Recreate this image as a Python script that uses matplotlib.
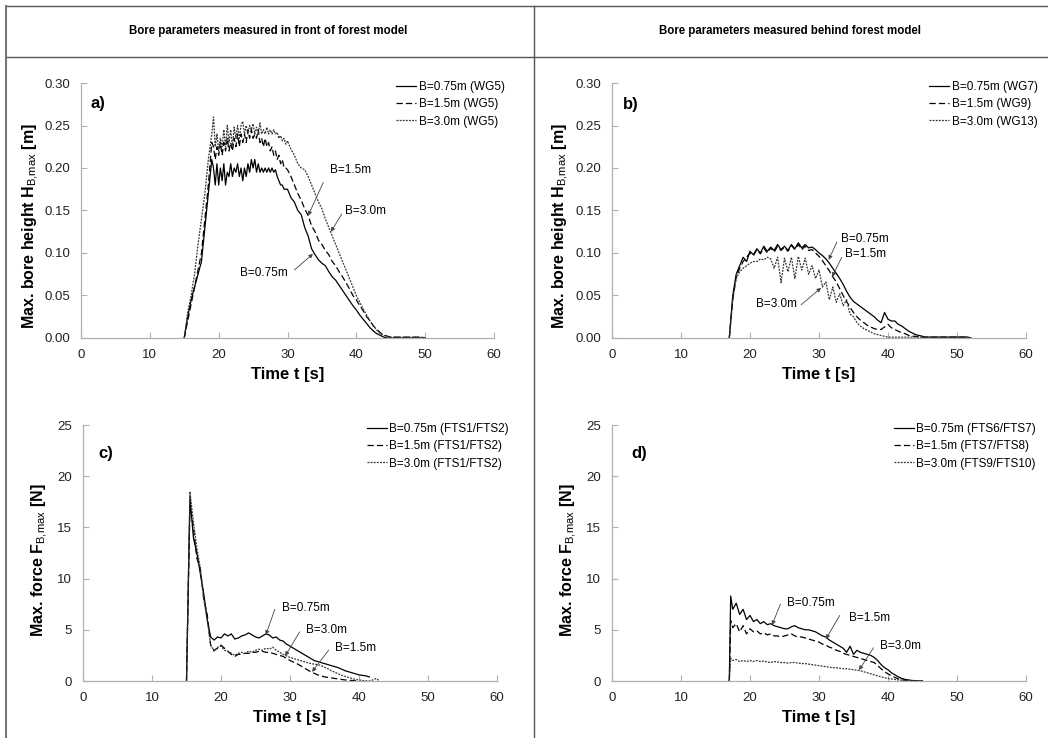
import numpy as np
import matplotlib
matplotlib.use("Agg")
import matplotlib.pyplot as plt
from matplotlib.lines import Line2D
from matplotlib.ticker import FormatStrFormatter

plt.rcParams['font.family'] = ['Liberation Sans', 'DejaVu Sans']
plt.rcParams['mathtext.fontset'] = 'custom'
plt.rcParams['mathtext.rm'] = 'Liberation Sans'
plt.rcParams['mathtext.bf'] = 'Liberation Sans:bold'

# ---------------- data ----------------
# panel a: bore height in front of forest model
t_a = np.concatenate([np.arange(15, 19, 0.5), np.arange(19, 30, 0.25), np.arange(30, 50.01, 0.5)])
h_a_075 = [0, 0.025, 0.045, 0.06, 0.075, 0.09, 0.13, 0.17,
           0.21, 0.20, 0.18, 0.205, 0.18, 0.20, 0.185, 0.205, 0.18, 0.195, 0.19, 0.205,
           0.19, 0.20, 0.195, 0.205, 0.19, 0.20, 0.185, 0.20, 0.19, 0.205, 0.195, 0.21,
           0.20, 0.21, 0.195, 0.205, 0.195, 0.20, 0.195, 0.20, 0.195, 0.20, 0.195, 0.20,
           0.195, 0.198, 0.19, 0.185, 0.18, 0.18, 0.175, 0.175,
           0.175, 0.165, 0.16, 0.15, 0.145, 0.13, 0.12, 0.105, 0.098, 0.092, 0.088, 0.085,
           0.078, 0.072, 0.068, 0.062, 0.056, 0.05, 0.044, 0.038, 0.033, 0.027, 0.022,
           0.017, 0.012, 0.008, 0.005, 0.003, 0.001, 0,
           0, 0, 0, 0, 0, 0, 0, 0, 0, 0, 0]
h_a_15 = [0, 0.02, 0.04, 0.06, 0.08, 0.10, 0.14, 0.18,
          0.23, 0.225, 0.21, 0.225, 0.215, 0.23, 0.215, 0.23, 0.22, 0.235, 0.22, 0.23,
          0.22, 0.235, 0.225, 0.24, 0.225, 0.24, 0.23, 0.24, 0.23, 0.245, 0.235, 0.245,
          0.235, 0.24, 0.235, 0.245, 0.23, 0.235, 0.225, 0.235, 0.225, 0.23, 0.22, 0.225,
          0.215, 0.22, 0.21, 0.215, 0.205, 0.21, 0.20, 0.20,
          0.198, 0.19, 0.18, 0.17, 0.162, 0.152, 0.144, 0.132, 0.125, 0.115, 0.11, 0.103,
          0.098, 0.09, 0.085, 0.078, 0.072, 0.065, 0.058, 0.05, 0.045, 0.038, 0.032,
          0.025, 0.02, 0.014, 0.01, 0.006, 0.004, 0.002, 0.001, 0.001, 0.001, 0.001,
          0.001, 0.001, 0.001, 0.001, 0.001, 0.0005, 0]
h_a_30 = [0, 0.03, 0.05, 0.075, 0.11, 0.14, 0.17, 0.21,
          0.24, 0.26, 0.225, 0.24, 0.22, 0.235, 0.225, 0.245, 0.225, 0.25, 0.23, 0.245,
          0.225, 0.248, 0.235, 0.25, 0.235, 0.25, 0.255, 0.24, 0.25, 0.24, 0.25, 0.245,
          0.252, 0.24, 0.248, 0.24, 0.253, 0.24, 0.245, 0.24, 0.248, 0.24, 0.245, 0.24,
          0.245, 0.24, 0.242, 0.235, 0.238, 0.232, 0.235, 0.228,
          0.232, 0.222, 0.215, 0.205, 0.20, 0.198, 0.19, 0.18, 0.17, 0.16, 0.152, 0.14,
          0.13, 0.12, 0.11, 0.10, 0.09, 0.08, 0.07, 0.06, 0.05, 0.042, 0.034,
          0.027, 0.02, 0.014, 0.009, 0.005, 0.003, 0.002, 0.001, 0.001, 0.001, 0.001,
          0.001, 0.001, 0.001, 0.001, 0.001, 0.001, 0]

# panel b: bore height behind forest model
t_b = np.arange(17, 52.01, 0.5)
h_b_075 = [0, 0.05, 0.075, 0.085, 0.095, 0.09, 0.102, 0.098, 0.105, 0.10,
           0.108, 0.102, 0.107, 0.103, 0.11, 0.104, 0.108, 0.103, 0.11, 0.105,
           0.112, 0.106, 0.11, 0.106, 0.107, 0.104, 0.10, 0.097, 0.093, 0.088,
           0.082, 0.076, 0.07, 0.063, 0.055, 0.048, 0.043, 0.04, 0.037, 0.034,
           0.031, 0.028, 0.025, 0.021, 0.018, 0.03, 0.022, 0.02, 0.02, 0.016,
           0.014, 0.011, 0.008, 0.006, 0.004, 0.003, 0.002, 0.001, 0.001, 0.001,
           0.001, 0.001, 0.001, 0.001, 0.001, 0.001, 0.001, 0.001, 0.001, 0.001, 0]
h_b_15 = [0, 0.045, 0.072, 0.082, 0.09, 0.095, 0.10, 0.097, 0.104, 0.099,
          0.106, 0.10, 0.106, 0.101, 0.108, 0.103, 0.107, 0.102, 0.109, 0.104,
          0.11, 0.104, 0.108, 0.103, 0.104, 0.10, 0.096, 0.091, 0.085, 0.079,
          0.072, 0.066, 0.058, 0.05, 0.043, 0.036, 0.03, 0.025, 0.021, 0.018,
          0.015, 0.013, 0.011, 0.01, 0.01, 0.013, 0.016, 0.012, 0.01, 0.008,
          0.006, 0.005, 0.003, 0.002, 0.002, 0.001, 0.001, 0.001, 0.001, 0.001,
          0.001, 0.001, 0.001, 0.001, 0.001, 0.001, 0.001, 0.001, 0.001, 0.001, 0]
h_b_30 = [0, 0.045, 0.07, 0.078, 0.082, 0.085, 0.088, 0.09, 0.09, 0.093,
          0.092, 0.095, 0.093, 0.082, 0.095, 0.065, 0.094, 0.078, 0.095, 0.07,
          0.096, 0.08, 0.094, 0.075, 0.085, 0.07, 0.08, 0.06, 0.066, 0.045,
          0.06, 0.042, 0.052, 0.038, 0.045, 0.028, 0.025, 0.018, 0.014, 0.011,
          0.009, 0.007, 0.005, 0.004, 0.003, 0.002, 0.001, 0.001, 0.001, 0.001,
          0.001, 0.001, 0.001, 0.001, 0.001, 0.001, 0.001, 0.001, 0.001, 0.001,
          0.001, 0.001, 0.001, 0.001, 0.001, 0.001, 0.001, 0.001, 0.001, 0.001, 0]

# panel c: force in front of forest model
t_c = np.arange(15, 43.01, 0.5)
f_c_075 = [0, 18.0, 14.0, 12.5, 10.5, 8.5, 6.0, 4.3, 4.0, 4.3, 4.2, 4.6, 4.4, 4.6,
           4.1, 4.2, 4.4, 4.5, 4.7, 4.5, 4.3, 4.2, 4.4, 4.6, 4.5, 4.2, 4.3, 4.0,
           3.9, 3.6, 3.4, 3.2, 3.0, 2.8, 2.6, 2.4, 2.2, 2.0, 1.9, 1.8, 1.7, 1.6,
           1.5, 1.4, 1.3, 1.15, 1.0, 0.9, 0.8, 0.7, 0.6, 0.55, 0.5, 0.4]
f_c_15 = [0, 17.0, 15.0, 12.0, 11.0, 8.0, 6.5, 3.5, 3.0, 3.2, 3.5, 3.2, 2.9, 2.6,
          2.4, 2.6, 2.6, 2.7, 2.7, 2.8, 2.8, 2.9, 2.9, 2.8, 2.8, 2.7, 2.6, 2.5,
          2.4, 2.2, 2.0, 1.85, 1.7, 1.5, 1.3, 1.1, 0.9, 0.75, 0.6, 0.5, 0.4, 0.35,
          0.3, 0.25, 0.2, 0.15, 0.1, 0.07, 0.05, 0.02, 0]
f_c_30 = [0, 18.5, 15.5, 13.0, 11.0, 8.0, 6.0, 3.5, 2.9, 3.3, 3.4, 3.0, 2.9, 2.7,
          2.5, 2.7, 2.8, 2.7, 2.9, 2.8, 3.0, 3.1, 3.0, 3.2, 3.1, 3.3, 3.0, 2.8,
          2.6, 2.45, 2.3, 2.2, 2.1, 2.0, 1.9, 1.8, 1.7, 1.65, 1.6, 1.5, 1.35, 1.2,
          1.0, 0.85, 0.7, 0.55, 0.45, 0.35, 0.25, 0.15, 0.1, 0.05, 0.02, 0, 0.1, 0.25, 0]

# panel d: force behind forest model
t_d = np.concatenate([[17.0, 17.2], np.arange(17.5, 45.01, 0.5)])
f_d_075 = [0, 8.3, 7.0, 7.6, 6.5, 7.0, 6.0, 6.4, 5.8, 6.0, 5.6, 5.8, 5.5, 5.6,
           5.4, 5.3, 5.2, 5.1, 5.1, 5.3, 5.4, 5.2, 5.1, 5.0, 5.0, 4.9, 4.8, 4.6,
           4.4, 4.3, 4.0, 3.8, 3.6, 3.4, 3.2, 2.8, 3.4, 2.6, 3.0, 2.8, 2.7, 2.6,
           2.5, 2.3, 2.0, 1.6, 1.3, 1.1, 0.8, 0.6, 0.4, 0.25, 0.15, 0.1, 0.05, 0.03,
           0.01, 0]
f_d_15 = [0, 5.9, 5.2, 5.6, 4.8, 5.4, 4.6, 5.1, 4.8, 4.9, 4.6, 4.7, 4.5, 4.6,
          4.4, 4.4, 4.3, 4.4, 4.5, 4.6, 4.4, 4.3, 4.3, 4.2, 4.1, 4.0, 3.9, 3.8,
          3.6, 3.5, 3.3, 3.2, 3.0, 2.9, 2.7, 2.6, 2.5, 2.4, 2.3, 2.2, 2.1, 2.0,
          1.9, 1.8, 1.5, 1.2, 0.9, 0.7, 0.5, 0.35, 0.2, 0.12, 0.07, 0.04, 0.02, 0.01,
          0.005, 0]
f_d_30 = [0, 2.2, 2.0, 2.1, 1.9, 2.0, 1.9, 2.0, 1.9, 2.0, 1.9, 1.95, 1.85, 1.8,
          1.9, 1.85, 1.8, 1.8, 1.75, 1.8, 1.8, 1.75, 1.7, 1.7, 1.65, 1.6, 1.55, 1.5,
          1.45, 1.4, 1.35, 1.3, 1.3, 1.25, 1.2, 1.2, 1.15, 1.1, 1.05, 1.0, 0.9, 0.8,
          0.7, 0.6, 0.5, 0.4, 0.32, 0.25, 0.2, 0.15, 0.1, 0.08, 0.05, 0.03, 0.02, 0.01,
          0.005, 0]

headers = ["Bore parameters measured in front of forest model",
           "Bore parameters measured behind forest model"]
legend_a = ["B=0.75m (WG5)", "B=1.5m (WG5)", "B=3.0m (WG5)"]
legend_b = ["B=0.75m (WG7)", "B=1.5m (WG9)", "B=3.0m (WG13)"]
legend_c = ["B=0.75m (FTS1/FTS2)", "B=1.5m (FTS1/FTS2)", "B=3.0m (FTS1/FTS2)"]
legend_d = ["B=0.75m (FTS6/FTS7)", "B=1.5m (FTS7/FTS8)", "B=3.0m (FTS9/FTS10)"]

# annotations: (label, text xy, arrow tail, arrow head)
notes_a = [("B=1.5m", (36.2, 0.198), (35.2, 0.183), (33.0, 0.144)),
           ("B=3.0m", (38.4, 0.149), (37.9, 0.146), (36.3, 0.125)),
           ("B=0.75m", (23.1, 0.076), (31.0, 0.080), (33.7, 0.099))]
notes_b = [("B=0.75m", (33.2, 0.116), (32.6, 0.113), (31.4, 0.092)),
           ("B=1.5m", (33.8, 0.099), (33.3, 0.095), (31.9, 0.072)),
           ("B=3.0m", (20.9, 0.040), (27.4, 0.039), (30.3, 0.059))]
notes_c = [("B=0.75m", (28.8, 7.16), (27.8, 7.0), (26.5, 4.5)),
           ("B=3.0m", (32.3, 5.0), (31.4, 4.8), (29.3, 2.45)),
           ("B=1.5m", (36.5, 3.2), (35.6, 3.0), (33.2, 0.9))]
notes_d = [("B=0.75m", (25.4, 7.6), (24.4, 7.5), (23.2, 5.47)),
           ("B=1.5m", (34.3, 6.15), (33.0, 6.4), (31.0, 4.1)),
           ("B=3.0m", (38.9, 3.45), (37.9, 3.25), (35.8, 1.07))]

W, H = 1048, 738
fig = plt.figure(figsize=(W / 100, H / 100), dpi=100)
fig.patch.set_facecolor('white')


def px_rect(l, r, t, b):
    return [l / W, 1 - b / H, (r - l) / W, (b - t) / H]


styles = [dict(color='black', lw=0.9, ls='-'),
          dict(color='black', lw=0.9, ls=(0, (5, 2.5))),
          dict(color='#333333', lw=0.9, ls=(0, (1.5, 1)))]


def draw_panel(rect, t, series, labels, notes, ylim, yticks, fmt, ylabel,
               tag, tag_xy, leg_xy, ylab_xy):
    ax = fig.add_axes(rect)
    for y, st, lab in zip(series, styles, labels):
        ax.plot(t[:len(y)], y, label=lab, **st)
    ax.set_xlim(0, 60)
    ax.set_ylim(*ylim)
    ax.set_xticks(range(0, 61, 10))
    ax.set_yticks(yticks)
    ax.yaxis.set_major_formatter(FormatStrFormatter(fmt))
    for s in ['top', 'right']:
        ax.spines[s].set_visible(False)
    for s in ['left', 'bottom']:
        ax.spines[s].set_color('#b0b0b0')
        ax.spines[s].set_linewidth(0.9)
    ax.tick_params(direction='in', length=4, color='#b0b0b0', labelsize=9.5,
                   labelcolor='#222222')
    ax.tick_params(axis='x', pad=8)
    ax.tick_params(axis='y', pad=8)
    ax.set_xlabel("Time t [s]", fontsize=12, fontweight='bold')
    ax.xaxis.set_label_coords(0.5, -0.115)
    ax.set_ylabel(ylabel, fontsize=11.5, fontweight='bold')
    ax.yaxis.set_label_coords(*ylab_xy)
    ax.text(tag_xy[0], tag_xy[1], tag, transform=ax.transAxes, fontsize=12,
            fontweight='bold', va='center', ha='left')
    ax.legend(loc='upper left', bbox_to_anchor=leg_xy, frameon=False, fontsize=8.5,
              handlelength=1.7, handletextpad=0.2, labelspacing=0.45,
              borderpad=0, borderaxespad=0)
    for lab, txy, tail, head in notes:
        ax.text(txy[0], txy[1], lab, fontsize=8.5, va='center', ha='left')
        ax.annotate('', xy=head, xytext=tail,
                    arrowprops=dict(arrowstyle='-|>', color='#444444', lw=0.6,
                                    mutation_scale=6, shrinkA=0, shrinkB=0))
    return ax


draw_panel(px_rect(81, 494, 83, 338), t_a, [h_a_075, h_a_15, h_a_30], legend_a, notes_a,
           (0, 0.30), np.arange(0, 0.301, 0.05), '%.2f',
           r"Max. bore height H$_{\mathrm{B{,}max}}$ [m]", "a)", (0.022, 0.92),
           (0.763, 1.008), (-0.098, 0.44))
draw_panel(px_rect(612, 1026, 83, 338), t_b, [h_b_075, h_b_15, h_b_30], legend_b, notes_b,
           (0, 0.30), np.arange(0, 0.301, 0.05), '%.2f',
           r"Max. bore height H$_{\mathrm{B{,}max}}$ [m]", "b)", (0.027, 0.914),
           (0.766, 1.008), (-0.10, 0.44))
draw_panel(px_rect(83, 497, 425, 681), t_c, [f_c_075, f_c_15, f_c_30], legend_c, notes_c,
           (0, 25), range(0, 26, 5), '%d',
           r"Max. force F$_{\mathrm{B{,}max}}$ [N]", "c)", (0.036, 0.887),
           (0.686, 1.008), (-0.08, 0.47))
draw_panel(px_rect(612, 1026, 425, 681), t_d, [f_d_075, f_d_15, f_d_30], legend_d, notes_d,
           (0, 25), range(0, 26, 5), '%d',
           r"Max. force F$_{\mathrm{B{,}max}}$ [N]", "d)", (0.046, 0.887),
           (0.681, 1.008), (-0.08, 0.47))


# table-like frame
def fig_line(x0, y0, x1, y1, lw=1.0, color='#555555'):
    fig.add_artist(Line2D([x0 / W, x1 / W], [1 - y0 / H, 1 - y1 / H],
                          transform=fig.transFigure, color=color, lw=lw))


fig_line(6, 6, W, 6)
fig_line(6, 57, W, 57)
fig_line(6, 6, 6, H, lw=1.5, color='#777777')
fig_line(534, 6, 534, H)

fig.text(268 / W, 1 - 31 / H, headers[0], ha='center', va='center', fontsize=8.3,
         fontweight='bold')
fig.text(790 / W, 1 - 31 / H, headers[1], ha='center', va='center', fontsize=8.3,
         fontweight='bold')

fig.savefig("out.png", dpi=100, facecolor='white')
